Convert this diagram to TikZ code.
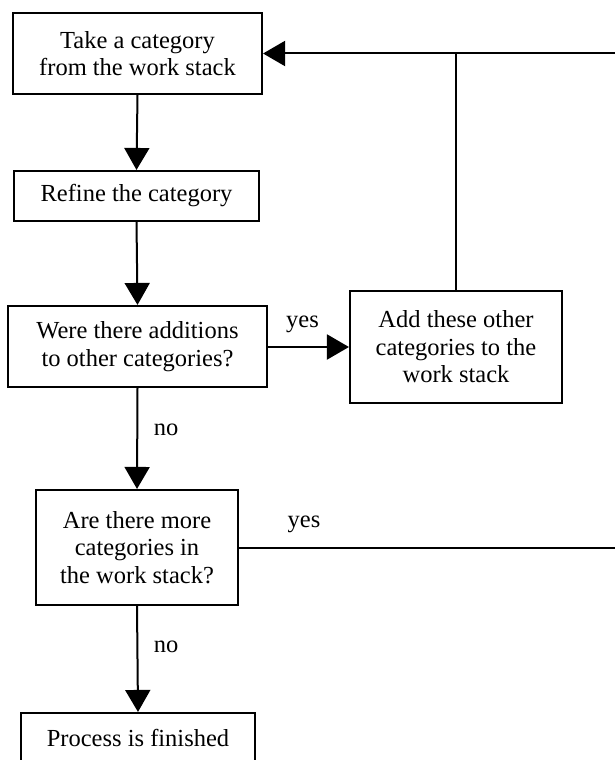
\documentclass[tikz,border=0pt]{standalone}
\usepackage{fontspec}
\setmainfont{Liberation Serif}
\usetikzlibrary{arrows.meta}
\begin{document}
\begin{tikzpicture}[x=1pt,y=1pt,
  every node/.style={font=\fontsize{24.5}{27.5}\selectfont},
  stepbox/.style={draw, line width=2.1pt, inner sep=0pt, align=center},
  flow/.style={line width=2pt, -{Triangle[length=22pt,width=25pt]}},
  plain/.style={line width=2pt},
  lbl/.style={inner sep=0pt}]
\useasboundingbox (0,0) rectangle (614,-760);

% process boxes
\node[stepbox, minimum width=249pt, minimum height=81pt] (take) at (137.5,-53.5)
  {Take a category\\from the work stack};
\node[stepbox, minimum width=245pt, minimum height=50pt] (refine) at (136.5,-196)
  {Refine the category};
\node[stepbox, minimum width=259pt, minimum height=81pt] (additions) at (137.5,-346.5)
  {Were there additions\\to other categories?};
\node[stepbox, minimum width=212pt, minimum height=112pt] (addother) at (456,-347)
  {Add these other\\categories to the\\work stack};
\node[stepbox, minimum width=202pt, minimum height=115pt] (more) at (137,-547.5)
  {Are there more\\categories in\\the work stack?};
\node[stepbox, minimum width=234pt, minimum height=50pt] (finished) at (138,-738)
  {Process is finished};

% return route on the right
\coordinate (rtop) at (622,-53.5);
\coordinate (rbot) at (622,-547.5);

% connectors
\draw[flow] (take.south) -- (refine.north);
\draw[flow] (refine.south) -- (additions.north);
\draw[flow] (additions.east |- addother.west) -- (addother.west);
\draw[flow] (additions.south) -- (more.north);
\draw[flow] (more.south) -- (finished.north);
\draw[plain] (addother.north) -- (addother.north |- take.east);
\draw[flow] (more.east) -- (rbot) -- (rtop) -- (take.east);

% branch labels
\node[lbl] (yes1) at (302.5,-324) {yes};
\node[lbl] (no1) at (166,-430) {no};
\node[lbl] (yes2) at (304,-524) {yes};
\node[lbl] (no2) at (166,-647) {no};
\end{tikzpicture}
\end{document}
